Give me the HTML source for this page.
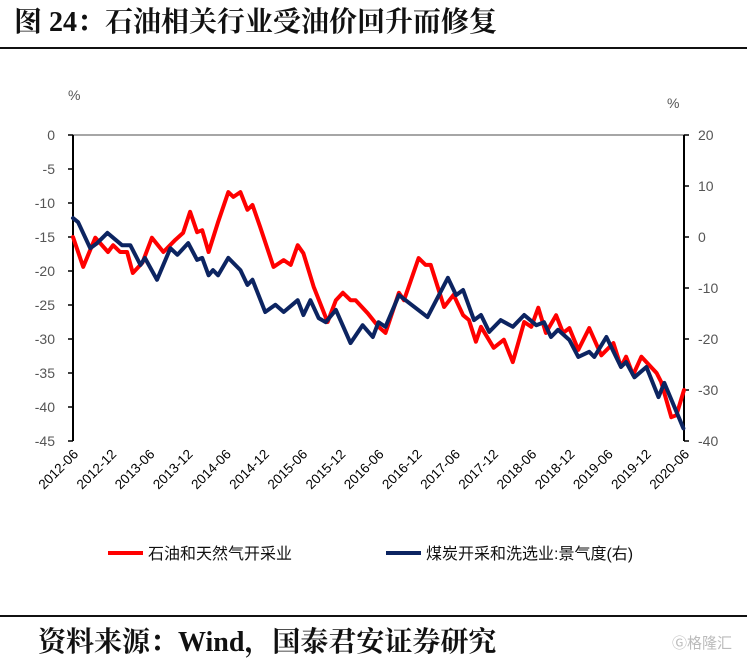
<!DOCTYPE html>
<html><head><meta charset="utf-8"><style>
body{margin:0;background:#fff;width:747px;height:663px;overflow:hidden;position:relative;font-family:"Liberation Sans","Noto Sans CJK SC",sans-serif}
.t{position:absolute;white-space:nowrap}
</style></head><body>
<div class="t" style="left:14px;top:0px;font:bold 28px 'Liberation Serif','Noto Serif CJK SC',serif;color:#111">图 24：石油相关行业受油价回升而修复</div>
<div style="position:absolute;left:0;top:47px;width:747px;height:2px;background:#111"></div>
<svg id="chart" width="747" height="600" style="position:absolute;left:0;top:0"></svg>
<div style="position:absolute;left:0;top:615px;width:747px;height:2px;background:#111"></div>
<div class="t" style="left:38px;top:620px;font:bold 28px 'Liberation Serif','Noto Serif CJK SC',serif;color:#111">资料来源：Wind，国泰君安证券研究</div>
<div class="t" style="left:672px;top:632px;font:15px 'Liberation Sans','Noto Sans CJK SC',sans-serif;color:#bbb">Ⓖ格隆汇</div>
<script>
const xLabels=["2012-06","2012-12","2013-06","2013-12","2014-06","2014-12","2015-06","2015-12","2016-06","2016-12","2017-06","2017-12","2018-06","2018-12","2019-06","2019-12","2020-06"];
const leftTicks=[0,-5,-10,-15,-20,-25,-30,-35,-40,-45];
const rightTicks=[20,10,0,-10,-20,-30,-40];
const redMonths=[0,1.6,3.5,5.5,6.3,7.4,8.5,9.4,10.9,12.4,14.2,16.1,17.3,18.4,19.5,20.3,21.3,22.8,24.4,25.2,26.3,27.4,28.2,29.4,31.5,33.1,34.2,35.3,36.2,37.8,40,41.3,42.4,43.6,44.4,46.3,46.8,48,49.1,51.2,52,54.3,55.4,56.2,58.3,59.8,61.3,62.2,63.3,64.1,66.1,67.7,69.1,70.9,72,73.1,74.3,75.9,77,78,79.4,81.1,83,84.9,86.1,86.9,88,89.3,91.7,92.4,94,94.8,96];
const redValues=[-15,-19.4,-15.1,-17.2,-16.2,-17.2,-17.2,-20.3,-18.8,-15.1,-17.2,-15.4,-14.4,-11.3,-14.3,-14,-17.2,-12.8,-8.4,-9.1,-8.4,-11,-10.3,-13.5,-19.4,-18.4,-19.1,-16.2,-17.4,-22.3,-27.5,-24.3,-23.2,-24.3,-24.3,-26.2,-26.8,-28.2,-29.1,-23.2,-24.3,-18.1,-19.1,-19.1,-25.3,-23.5,-26.5,-27.2,-30.4,-28.2,-31.3,-30.1,-33.4,-27.5,-28.2,-25.4,-29.1,-26.5,-29.1,-28.4,-31.6,-28.4,-32.4,-30.6,-34.1,-32.6,-35.3,-32.6,-35,-36.3,-41.5,-41.2,-37.5];
const blueMonths=[0,0.8,2.7,3.8,5.4,7.7,9,10.6,11.3,13.2,15.3,16.4,18.1,19.5,20.3,21.3,22,22.8,24.4,26.3,27.4,28.2,30.2,31.8,33.1,35.3,36.2,37.3,38.6,39.7,41.3,43.6,45.5,47.1,48,49.1,51.2,55.7,58.9,60.2,61.3,63,64.1,65.4,67.2,69.1,70.9,72.8,74,75.1,76.2,78,79.4,81.1,81.9,83.8,86.1,86.9,88.2,90.1,92,92.9,95.9];
const blueValues=[3.7,2.9,-2.2,-1.2,0.8,-1.6,-1.6,-5.5,-4.1,-8.4,-2.2,-3.5,-1.2,-4.5,-4.1,-7.5,-6.5,-7.5,-4.1,-6.5,-9.4,-8.4,-14.7,-13.3,-14.7,-12.4,-15.3,-12.4,-15.9,-16.7,-14.3,-20.8,-17.3,-19.6,-16.7,-17.6,-11.4,-15.7,-8,-11.4,-10.4,-16.3,-15.3,-18.6,-16.3,-17.6,-15.3,-17.3,-16.7,-19.6,-18.2,-20.2,-23.5,-22.5,-23.5,-19.6,-25.5,-24.5,-27.5,-25.5,-31.4,-28.6,-37.5];
const X0=73,X1=684,YT=135,YB=441;
const xs=m=>X0+(X1-X0)*m/96;
const yl=v=>YT+(0-v)/45*(YB-YT);
const yr=v=>YT+(20-v)/60*(YB-YT);
const svg=document.getElementById('chart');
const NS='http://www.w3.org/2000/svg';
function mk(tag,at,txt){const e=document.createElementNS(NS,tag);for(const k in at)e.setAttribute(k,at[k]);if(txt!==undefined)e.textContent=txt;svg.appendChild(e);return e;}
let e;
e=mk('line',{x1:X0,y1:YT,x2:X1,y2:YT,stroke:'#888','stroke-width':1.5});


e=mk('line',{x1:X0,y1:YT,x2:X0,y2:YB,stroke:'#000','stroke-width':2});


e=mk('line',{x1:X1,y1:YT,x2:X1,y2:YB,stroke:'#000','stroke-width':2});


leftTicks.forEach(v=>{const y=yl(v);
 e=mk('line',{x1:X0-5,y1:y,x2:X0,y2:y,stroke:'#000','stroke-width':1.5});
 
 
 e=mk('text',{x:55,y:y+5,'text-anchor':'end','font-size':14,fill:'#555','font-family':'Liberation Sans, sans-serif'},String(v));
 
 });
rightTicks.forEach(v=>{const y=yr(v);
 e=mk('line',{x1:X1,y1:y,x2:X1+5,y2:y,stroke:'#000','stroke-width':1.5});
 
 
 e=mk('text',{x:698,y:y+5,'font-size':14,fill:'#555','font-family':'Liberation Sans, sans-serif'},String(v));
 
 });
e=mk('text',{x:68,y:100,'font-size':14,fill:'#555'},'%');


e=mk('text',{x:667,y:108,'font-size':14,fill:'#555'},'%');


xLabels.forEach((l,i)=>{const x=xs(i*6);
 e=mk('text',{x:0,y:0,'text-anchor':'end','font-size':13.5,fill:'#000',transform:`translate(${x+6},${YB+14}) rotate(-45)`},l);
 
 });
function pts(ms,vs,f){return ms.map((m,i)=>xs(m).toFixed(1)+','+f(vs[i]).toFixed(1)).join(' ');}
e=mk('polyline',{points:pts(redMonths,redValues,yl),fill:'none',stroke:'#ff0000','stroke-width':4,'stroke-linejoin':'round','stroke-linecap':'round'});


e=mk('polyline',{points:pts(blueMonths,blueValues,yr),fill:'none',stroke:'#0c2461','stroke-width':4,'stroke-linejoin':'round','stroke-linecap':'round'});


e=mk('line',{x1:108,y1:553,x2:143,y2:553,stroke:'#ff0000','stroke-width':4});


e=mk('text',{x:148,y:559,'font-size':16,fill:'#111','font-family':'Liberation Sans, Noto Sans CJK SC, sans-serif'},'石油和天然气开采业');


e=mk('line',{x1:386,y1:553,x2:421,y2:553,stroke:'#0c2461','stroke-width':4});


e=mk('text',{x:426,y:559,'font-size':16,fill:'#111','font-family':'Liberation Sans, Noto Sans CJK SC, sans-serif'},'煤炭开采和洗选业:景气度(右)');


</script>
</body></html>
